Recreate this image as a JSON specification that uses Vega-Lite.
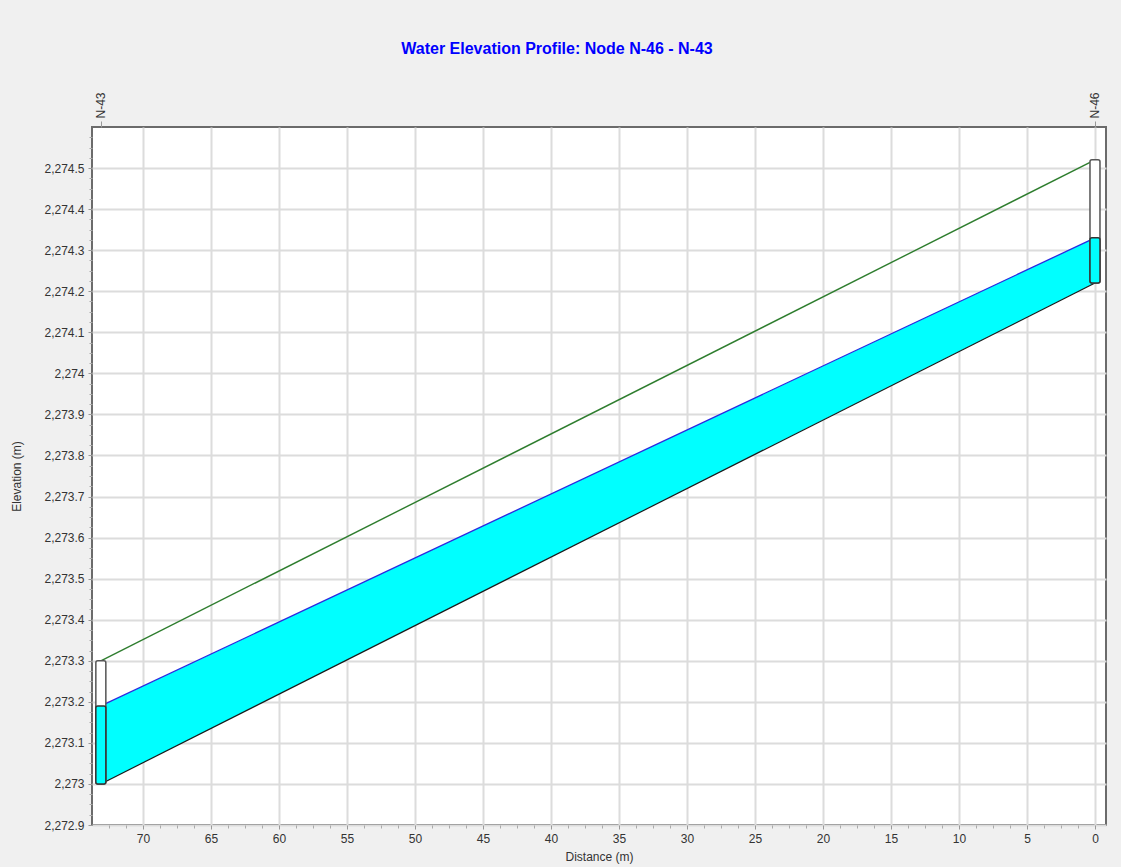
{
  "$schema": "https://vega.github.io/schema/vega-lite/v6.json",
  "autosize": "none",
  "width": 1014,
  "height": 698,
  "padding": {"left": 92, "top": 127, "right": 15, "bottom": 42},
  "background": "#f0f0f0",
  "title": {
    "text": "Water Elevation Profile: Node N-46 - N-43",
    "color": "#0000ff",
    "font": "Liberation Sans",
    "fontSize": 16,
    "fontWeight": "bold",
    "anchor": "middle",
    "dx": -42,
    "offset": 35
  },
  "config": {
    "view": {"stroke": "#6b6b6b", "strokeWidth": 2, "fill": "#ffffff"},
    "axis": {
      "labelFont": "Liberation Sans",
      "labelFontSize": 12,
      "labelColor": "#333333",
      "titleFont": "Liberation Sans",
      "titleFontSize": 12,
      "titleFontWeight": "normal",
      "titleColor": "#333333",
      "domain": false,
      "tickColor": "#999999",
      "gridColor": "#dcdcdc",
      "gridWidth": 2
    }
  },
  "data": {
    "values": [
      {"node": "N-43", "distance": 73.1, "invert": 2273.0, "hgl": 2273.19, "ground": 2273.30},
      {"node": "N-46", "distance": 0, "invert": 2274.22, "hgl": 2274.33, "ground": 2274.52}
    ]
  },
  "resolve": {"axis": {"x": "independent", "y": "independent"}},
  "layer": [
    {
      "mark": {"type": "area", "color": "#00ffff", "opacity": 1},
      "encoding": {
        "x": {
          "field": "distance", "type": "quantitative",
          "scale": {"domain": [-0.81, 73.75], "reverse": true, "nice": false, "zero": false, "padding": 0},
          "axis": {
            "orient": "bottom", "title": "Distance (m)",
            "values": [0, 5, 10, 15, 20, 25, 30, 35, 40, 45, 50, 55, 60, 65, 70],
            "grid": true, "tickSize": 4, "labelPadding": 4, "titlePadding": 7
          }
        },
        "y": {
          "field": "invert", "type": "quantitative",
          "scale": {"domain": [2272.9, 2274.6], "nice": false, "zero": false, "padding": 0},
          "axis": {
            "orient": "left", "title": "Elevation (m)", "format": ",.1~f",
            "values": [2272.9, 2273.0, 2273.1, 2273.2, 2273.3, 2273.4, 2273.5, 2273.6, 2273.7, 2273.8, 2273.9, 2274.0, 2274.1, 2274.2, 2274.3, 2274.4, 2274.5],
            "grid": true, "tickSize": 4, "labelPadding": 4, "titlePadding": 20
          }
        },
        "y2": {"field": "hgl"}
      }
    },
    {
      "mark": {"type": "line", "color": "#2a2ae0", "strokeWidth": 1.3},
      "encoding": {
        "x": {
          "field": "distance", "type": "quantitative",
          "axis": {
            "orient": "bottom", "title": null, "labels": false, "grid": false,
            "tickSize": 3, "tickColor": "#aaaaaa",
            "values": [1.25, 2.5, 3.75, 6.25, 7.5, 8.75, 11.25, 12.5, 13.75, 16.25, 17.5, 18.75, 21.25, 22.5, 23.75, 26.25, 27.5, 28.75, 31.25, 32.5, 33.75, 36.25, 37.5, 38.75, 41.25, 42.5, 43.75, 46.25, 47.5, 48.75, 51.25, 52.5, 53.75, 56.25, 57.5, 58.75, 61.25, 62.5, 63.75, 66.25, 67.5, 68.75, 71.25, 72.5]
          }
        },
        "y": {
          "field": "hgl", "type": "quantitative",
          "axis": {
            "orient": "left", "title": null, "labels": false, "grid": false,
            "tickSize": 3, "tickColor": "#aaaaaa",
            "values": [2272.925, 2272.95, 2272.975, 2273.025, 2273.05, 2273.075, 2273.125, 2273.15, 2273.175, 2273.225, 2273.25, 2273.275, 2273.325, 2273.35, 2273.375, 2273.425, 2273.45, 2273.475, 2273.525, 2273.55, 2273.575, 2273.625, 2273.65, 2273.675, 2273.725, 2273.75, 2273.775, 2273.825, 2273.85, 2273.875, 2273.925, 2273.95, 2273.975, 2274.025, 2274.05, 2274.075, 2274.125, 2274.15, 2274.175, 2274.225, 2274.25, 2274.275, 2274.325, 2274.35, 2274.375, 2274.425, 2274.45, 2274.475, 2274.525, 2274.55, 2274.575]
          }
        }
      }
    },
    {
      "mark": {"type": "line", "color": "#1a1a1a", "strokeWidth": 1.2},
      "encoding": {
        "x": {"field": "distance", "type": "quantitative", "axis": null},
        "y": {"field": "invert", "type": "quantitative", "axis": null}
      }
    },
    {
      "mark": {"type": "line", "color": "#2e7d2e", "strokeWidth": 1.4},
      "encoding": {
        "x": {"field": "distance", "type": "quantitative", "axis": null},
        "y": {"field": "ground", "type": "quantitative", "axis": null}
      }
    },
    {
      "mark": {"type": "bar", "size": 10, "fill": "#ffffff", "stroke": "#555555", "strokeWidth": 1.5, "cornerRadius": 2},
      "encoding": {
        "x": {
          "field": "distance", "type": "quantitative",
          "axis": {
            "orient": "top", "title": null, "grid": false,
            "values": [73.1, 0],
            "labelExpr": "datum.value > 36 ? 'N-43' : 'N-46'",
            "labelAngle": 270, "tickSize": 6, "labelPadding": 3
          }
        },
        "y": {"field": "invert", "type": "quantitative", "axis": null},
        "y2": {"field": "ground"}
      }
    },
    {
      "mark": {"type": "bar", "size": 10, "fill": "#00ffff", "stroke": "#333333", "strokeWidth": 1.5, "cornerRadius": 2},
      "encoding": {
        "x": {"field": "distance", "type": "quantitative", "axis": null},
        "y": {"field": "invert", "type": "quantitative", "axis": null},
        "y2": {"field": "hgl"}
      }
    }
  ]
}
